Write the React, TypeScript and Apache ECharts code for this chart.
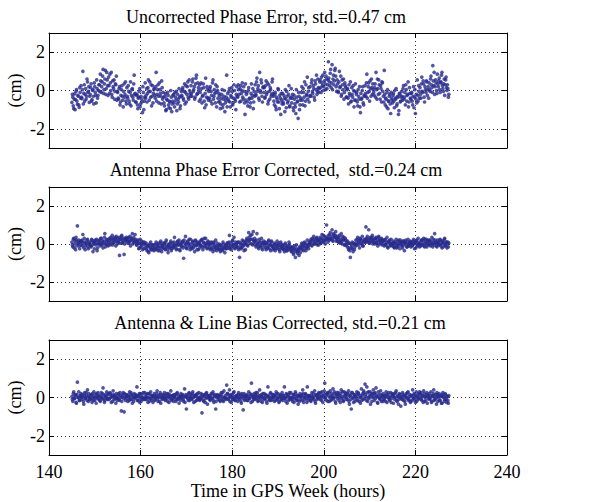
import React, { useEffect, useRef } from "react";
import * as echarts from "echarts";

// Time grid of the samples (hours): set A at T0 + i*DT, set B half a step later
const T0 = 145;
const DT = 0.2;

const X_MIN = 140;
const X_MAX = 240;
const X_STEP = 20;
const Y_MIN = -3;
const Y_MAX = 3;
const Y_TICKS = [-2, 0, 2];

const TITLES = [
  "Uncorrected Phase Error, std.=0.47 cm",
  "Antenna Phase Error Corrected,  std.=0.24 cm",
  "Antenna & Line Bias Corrected, std.=0.21 cm",
];
const Y_LABEL = "(cm)";
const X_LABEL = "Time in GPS Week (hours)";

// Panel 1: uncorrected phase error (cm)
const uncorrectedA = [
  -0.62, -0.35, -0.95, -0.18, -0.48, 0.05, -0.72, -0.30, -0.88, -0.10,
  0.25, -0.42, 1.00, -0.15, -0.55, 0.10, -0.30, 0.45, -0.05, -0.62,
  -0.20, 0.35, -0.48, 0.05, -0.70, 0.20, -0.25, 0.55, -0.40, 0.00,
  0.30, 0.85, -0.10, 0.45, 1.10, 0.05, 0.60, -0.20, 0.95, 0.25,
  0.70, -0.15, 0.40, 0.95, -0.35, 0.20, 0.55, -0.05, 0.30, -0.50,
  -0.10, -0.45, 0.20, -0.60, 0.05, -0.30, -0.85, 0.35, -0.20, -0.55,
  0.15, -0.40, -0.05, -0.70, 0.45, -0.25, 0.10, -0.50, 0.80, -0.15,
  -0.60, -0.20, -0.95, -0.35, 0.10, -0.70, -0.45, -1.15, -0.10, -0.55,
  0.40, -0.25, -0.60, 0.15, -0.05, 0.45, -0.35, -0.80, 0.25, -0.15,
  0.10, -0.40, 0.95, -0.20, 0.30, -0.65, 0.05, -0.30, 0.50, -0.45,
  -0.35, -0.80, -0.15, -1.00, -0.50, -0.25, -0.90, -0.60, 0.00, -1.10,
  -0.55, -0.20, -0.85, -0.35, -0.05, -0.70, -0.45, 0.10, -0.95, -0.30,
  -0.25, 0.15, -0.50, 0.35, -0.10, -0.60, 0.20, -0.35, 0.55, -0.15,
  0.25, -0.30, 0.60, 0.05, -0.45, 0.35, 0.80, -0.15, 0.15, -0.55,
  -0.10, 0.40, -0.65, -0.25, 0.15, -0.90, 0.65, -0.35, 0.05, -0.50,
  -0.40, 0.20, -0.05, -0.70, 0.55, -0.30, -0.15, 0.30, -0.85, 0.00,
  -0.60, -0.25, -0.95, -0.40, 0.05, -0.75, -0.30, -1.10, -0.50, 0.80,
  -0.15, -0.55, 0.10, -0.85, -0.35, -0.05, -0.65, 0.30, -0.45, -1.00,
  0.20, -0.35, 0.05, -0.60, 0.25, -0.15, 0.40, -0.45, -0.05, -1.25,
  -0.50, -0.10, -0.80, 0.15, -0.40, -0.65, 0.35, -0.25, -0.95, -0.05,
  0.30, -0.25, 0.65, 0.10, -0.40, 0.95, -0.10, 0.40, -0.60, 0.20,
  0.15, -0.35, 0.50, -0.10, -0.70, 0.30, -0.45, 0.05, -0.20, 0.60,
  -0.30, -0.75, -0.10, -1.00, -0.45, 0.10, -0.60, -0.25, -1.25, -0.50,
  -0.15, -0.70, -0.40, 0.05, -0.90, -0.30, -0.55, 0.25, -0.80, -0.35,
  -0.65, -0.20, -1.05, -0.45, -0.85, 0.05, -0.60, -1.45, -0.30, -0.75,
  -0.40, 0.20, -0.75, -0.10, 0.45, -0.55, -0.25, 0.70, -0.05, -0.60,
  0.20, -0.30, 0.55, -0.15, 0.10, -0.50, 0.35, 0.80, -0.05, 0.15,
  0.10, 0.55, -0.10, 0.40, 0.80, 0.20, 0.95, 0.05, 0.60, 0.30,
  1.50, 0.45, 0.90, 0.15, 1.35, 0.60, 0.30, 1.05, 0.75, -0.05,
  0.35, -0.10, 1.00, 0.20, -0.30, 0.55, 0.05, -0.45, 0.40, 0.15,
  -0.35, 0.10, -0.70, -0.15, 0.45, -0.55, -0.20, 0.25, -0.85, -0.05,
  -0.50, -0.10, -0.80, -0.30, 0.20, -1.15, -0.45, 0.00, -0.65, -0.25,
  0.25, -0.30, 0.85, -0.10, 0.40, -0.55, 0.10, 0.60, -0.20, 0.05,
  -0.25, 0.35, 0.95, -0.45, 0.10, 0.55, -0.15, 0.25, -0.60, 0.40,
  -0.30, 1.05, -0.75, -0.45, -0.10, -0.95, -0.55, -0.20, -1.20, -0.40,
  -0.65, -0.15, -0.90, -0.40, 0.10, -0.70, -0.35, -1.05, -0.20, -0.55,
  -0.05, -0.50, 0.25, -0.35, -0.75, 0.05, -0.25, 0.45, -0.60, -0.15,
  -0.45, -0.10, -0.75, 0.20, -0.35, -1.20, -0.20, 0.55, -0.55, -0.05,
  0.15, -0.40, 0.70, -0.10, 0.35, -0.60, 0.05, 0.50, -0.25, 0.20,
  0.40, -0.05, 0.75, 0.15, 1.30, 0.25, -0.20, 0.55, 0.00, 0.85,
  0.20, 0.65, -0.10, 0.45, 0.95, 0.10, 0.35, -0.25, 0.55, 0.15,
  0.30, -0.35,
];
const uncorrectedB = [
  -0.20, -0.80, -0.45, -1.00, -0.05, -0.55, -0.25, -0.75, 0.15, -0.40,
  -0.35, 0.05, -0.70, 0.30, -0.20, -0.45, 0.60, -0.10, 0.20, -0.30,
  0.15, -0.55, 0.00, -0.30, 0.40, -0.10, -0.65, 0.10, -0.25, 0.30,
  -0.05, 0.50, 0.20, 0.75, -0.15, 0.35, 1.05, 0.10, 0.55, -0.25,
  0.25, 0.85, 0.00, -0.20, 0.50, 0.10, -0.45, 0.35, 0.75, -0.05,
  -0.40, 0.10, -0.75, -0.25, 0.25, -0.50, -0.05, -0.35, 0.45, -0.70,
  -0.30, 0.25, -0.55, -0.10, -0.80, 0.05, -0.35, 0.35, -0.20, -0.60,
  -0.25, -0.75, -0.40, -0.05, -0.85, -0.30, -0.60, 0.20, -1.00, -0.35,
  -0.40, 0.10, -0.15, 0.55, -0.50, -0.05, 0.30, -0.30, -0.65, 0.05,
  -0.25, 0.20, -0.55, 0.05, -0.30, 0.40, -0.15, -0.70, 0.15, -0.10,
  -0.65, -0.30, -1.05, -0.45, -0.10, -0.75, -0.55, -0.95, -0.35, -0.70,
  -0.25, -0.65, -0.10, -0.50, -1.05, -0.20, -0.60, -0.35, -0.80, -0.05,
  0.05, -0.40, -0.05, -0.70, 0.25, -0.20, 0.45, -0.45, 0.00, -0.30,
  -0.15, 0.45, -0.05, 0.20, -0.35, 0.65, -0.20, 0.40, 0.00, 0.30,
  -0.45, 0.10, -0.30, 0.35, -0.55, -0.15, -0.75, 0.20, -0.40, -0.05,
  0.10, -0.55, -0.25, 0.40, -0.45, 0.05, -0.65, -0.10, 0.20, -0.40,
  -0.15, -0.55, -0.70, -0.20, -0.90, -0.45, 0.00, -0.65, -0.35, -0.85,
  -0.45, -0.05, -0.60, -0.25, 0.15, -0.75, -0.40, 0.00, -0.55, -0.20,
  -0.30, 0.30, -0.20, 0.10, -0.55, 0.00, -0.35, 0.20, -0.65, 0.35,
  -0.20, -0.60, 0.00, -0.45, -0.85, -0.15, -0.40, 0.10, -0.60, -0.30,
  -0.20, 0.45, -0.05, 0.25, -0.50, 0.00, 0.55, -0.30, 0.15, -0.10,
  -0.40, 0.25, -0.20, 0.40, -0.55, -0.05, 0.15, -0.30, 0.45, -0.15,
  -0.55, -0.20, -0.85, -0.35, -0.60, 0.05, -0.95, -0.40, -0.15, -0.70,
  -0.60, -0.25, -1.10, -0.45, -0.05, -0.65, -0.20, -0.85, -0.40, 0.10,
  -0.40, -0.90, -0.25, -0.70, -1.20, -0.35, -0.55, -0.10, -1.00, -0.50,
  -0.10, -0.50, 0.10, -0.35, -0.80, 0.30, -0.20, -0.45, 0.15, -0.30,
  -0.25, 0.40, -0.05, 0.25, -0.35, 0.50, 0.05, -0.20, 0.60, -0.10,
  0.45, 0.15, 0.70, 0.25, 0.00, 0.50, 0.35, 0.75, 0.10, 0.55,
  0.65, 0.25, 1.10, 0.40, 0.05, 0.80, 0.50, 1.15, 0.20, 0.55,
  -0.05, 0.45, 0.15, 0.75, -0.20, 0.30, 0.60, -0.10, 0.25, -0.35,
  0.05, -0.40, 0.30, -0.25, -0.60, 0.15, -0.35, 0.00, -0.50, 0.35,
  -0.20, -0.60, 0.05, -0.45, -0.85, -0.15, -0.40, 0.20, -0.75, -0.30,
  -0.15, 0.40, -0.40, 0.20, -0.05, 0.50, -0.30, 0.15, 0.35, -0.10,
  0.15, -0.35, 0.05, 0.60, -0.20, 0.30, -0.45, 0.10, 0.45, -0.05,
  -0.60, -0.20, -0.40, -0.85, 0.05, -0.55, -0.30, -0.70, -0.10, -0.50,
  -0.25, -0.55, 0.00, -0.45, -0.80, -0.30, -1.25, -0.15, -0.60, -0.35,
  -0.30, 0.10, -0.45, -0.10, 0.30, -0.55, -0.20, -0.85, 0.15, -0.40,
  -0.15, -0.55, -0.30, -0.90, 0.05, -0.45, -0.65, -0.25, 0.25, -0.40,
  -0.20, 0.35, -0.05, 0.50, -0.35, 0.20, -0.10, 0.45, 0.05, -0.40,
  0.05, 0.60, 0.30, -0.10, 0.50, 0.95, 0.20, 0.40, -0.15, 0.35,
  0.50, 0.05, 0.40, 0.80, 0.25, -0.05, 0.60, 0.30, 0.70, 0.00,
  0.10, -0.20,
];

// Panel 2: antenna phase error corrected (cm)
const antennaCorrectedA = [
  0.10, -0.15, 0.30, 0.00, -0.30, 0.20, 0.95, 0.05, -0.10, 0.15,
  -0.05, 0.20, 0.50, -0.20, 0.10, -0.10, 0.05, 0.25, -0.25, 0.00,
  0.10, -0.15, 0.20, -0.40, 0.05, 0.15, -0.05, 0.25, -0.20, 0.00,
  0.20, -0.10, 0.30, 0.05, -0.20, 0.15, 0.55, 0.00, 0.25, -0.05,
  0.10, 0.30, -0.05, 0.25, 0.45, 0.05, 0.20, 0.35, -0.10, 0.15,
  0.30, 0.10, -0.60, 0.25, 0.40, 0.05, 0.20, -0.55, 0.30, 0.15,
  0.25, 0.05, 0.35, 0.15, -0.10, 0.30, 0.55, 0.10, 0.20, 0.50,
  0.10, -0.05, 0.20, -0.25, 0.05, -0.15, 0.15, -0.30, 0.00, 0.10,
  -0.20, 0.05, -0.35, -0.10, -0.45, -0.15, 0.10, -0.30, -0.05, -0.25,
  -0.05, -0.30, 0.10, -0.15, -0.35, 0.05, -0.20, 0.15, -0.40, -0.10,
  -0.20, 0.05, -0.30, 0.20, -0.10, -0.45, 0.00, -0.15, 0.15, -0.25,
  0.05, -0.20, 0.35, -0.10, -0.30, 0.10, -0.05, 0.20, -0.35, 0.00,
  -0.10, 0.15, -0.75, 0.05, 0.40, -0.20, 0.10, -0.05, 0.25, -0.30,
  0.00, -0.25, 0.15, -0.10, -0.40, 0.20, -0.05, 0.10, -0.30, 0.05,
  0.15, -0.10, 0.25, -0.30, 0.05, -0.15, 0.30, 0.00, -0.20, 0.10,
  -0.05, -0.30, 0.10, -0.20, -0.40, 0.05, -0.15, 0.20, -0.35, -0.10,
  -0.25, 0.00, -0.40, -0.10, -0.30, 0.10, -0.20, -0.45, -0.05, -0.25,
  0.05, -0.20, 0.45, -0.10, -0.30, 0.15, -0.05, 0.35, -0.25, 0.00,
  -0.15, 0.10, -0.30, -0.70, 0.05, -0.20, 0.20, -0.05, -0.35, 0.10,
  0.05, 0.30, -0.10, 0.60, 0.20, 0.45, 0.00, 0.25, 0.65, 0.10,
  0.15, -0.15, 0.55, 0.05, -0.25, 0.10, -0.10, 0.30, -0.30, 0.00,
  -0.10, 0.10, -0.30, 0.05, -0.20, 0.20, -0.05, -0.35, 0.15, -0.15,
  -0.20, 0.05, -0.35, -0.10, 0.15, -0.25, -0.05, -0.40, 0.10, -0.15,
  -0.25, -0.05, -0.40, 0.05, -0.20, -0.35, -0.10, 0.10, -0.30, -0.15,
  -0.35, -0.15, -0.55, -0.25, -0.70, -0.05, -0.40, -0.30, -0.60, -0.20,
  -0.25, 0.05, -0.15, -0.35, 0.10, -0.05, -0.20, 0.20, -0.10, 0.00,
  0.05, 0.25, -0.10, 0.20, 0.40, 0.00, 0.15, 0.30, -0.05, 0.20,
  0.15, 0.35, 0.05, 0.50, 0.25, 0.10, 0.40, 0.20, 1.00, 0.30,
  0.45, 0.20, 0.60, 0.30, 0.75, 0.15, 0.50, 0.35, 0.65, 0.25,
  0.30, 0.10, 0.45, 0.15, 0.55, 0.00, 0.25, 0.35, -0.05, 0.20,
  -0.05, 0.15, -0.30, 0.05, -0.70, -0.20, 0.10, -0.40, 0.00, -0.15,
  0.20, -0.05, 0.35, 0.10, -0.20, 0.25, 0.05, 0.40, -0.10, 0.15,
  0.10, 0.90, 0.30, 0.15, 0.75, 0.05, 0.35, 0.20, 0.45, 0.10,
  0.25, 0.00, 0.35, 0.10, -0.10, 0.40, 0.20, 0.05, 0.30, 0.15,
  0.15, -0.10, 0.25, 0.00, 0.35, -0.20, 0.10, 0.20, -0.05, 0.05,
  -0.10, 0.15, -0.20, 0.05, 0.25, -0.15, 0.00, 0.20, -0.25, 0.10,
  0.05, -0.20, 0.15, -0.35, 0.10, 0.00, -0.15, 0.25, -0.05, 0.10,
  -0.15, 0.10, -0.05, 0.25, -0.25, 0.05, 0.15, -0.10, 0.30, 0.00,
  0.10, -0.10, 0.20, 0.00, 0.30, -0.15, 0.05, 0.25, -0.05, 0.15,
  -0.05, 0.20, 0.00, 0.35, -0.15, 0.10, 0.55, 0.05, -0.10, 0.20,
  0.10, -0.05, 0.25, 0.00, -0.20, 0.15, 0.05, 0.30, -0.10, 0.10,
  0.00, -0.15,
];
const antennaCorrectedB = [
  -0.05, 0.25, -0.20, 0.15, 0.35, -0.10, 0.05, 0.20, -0.25, 0.10,
  0.15, -0.10, 0.05, 0.30, -0.30, 0.00, 0.20, -0.15, 0.10, -0.05,
  -0.10, 0.25, -0.05, 0.10, -0.25, 0.20, 0.05, -0.35, 0.15, 0.00,
  0.10, 0.30, -0.05, 0.15, 0.00, 0.35, -0.15, 0.10, 0.20, -0.10,
  0.20, 0.05, 0.35, 0.15, -0.05, 0.30, 0.10, 0.25, 0.40, 0.00,
  0.15, 0.35, 0.05, 0.25, 0.45, 0.10, 0.30, 0.00, 0.20, 0.35,
  0.30, 0.15, 0.05, 0.40, 0.20, 0.25, 0.00, 0.35, 0.10, 0.25,
  -0.05, 0.15, 0.05, -0.20, 0.25, 0.00, -0.10, 0.10, -0.25, 0.05,
  -0.05, -0.25, -0.10, -0.40, 0.00, -0.20, -0.30, -0.05, -0.15, -0.35,
  -0.20, 0.00, -0.25, -0.05, -0.15, -0.35, 0.05, -0.10, -0.25, 0.05,
  -0.05, -0.25, 0.10, -0.15, -0.30, -0.05, -0.20, 0.05, -0.35, -0.10,
  -0.15, 0.10, -0.10, 0.00, -0.25, 0.15, -0.05, -0.30, 0.05, -0.15,
  0.10, -0.20, 0.20, -0.10, 0.00, -0.25, 0.15, 0.05, -0.15, 0.25,
  -0.15, 0.10, -0.20, 0.00, 0.15, -0.10, -0.30, 0.05, -0.05, -0.20,
  -0.05, 0.20, -0.15, 0.10, 0.30, -0.10, 0.05, -0.25, 0.15, -0.05,
  -0.20, 0.05, -0.25, -0.05, 0.10, -0.30, -0.10, -0.20, 0.05, -0.25,
  -0.10, -0.30, -0.05, -0.20, -0.35, 0.00, -0.15, -0.25, -0.10, 0.05,
  -0.10, 0.10, -0.25, 0.05, -0.15, 0.20, -0.05, -0.20, 0.10, -0.10,
  0.05, -0.20, 0.10, -0.10, -0.25, 0.00, -0.15, 0.15, -0.05, -0.30,
  0.20, -0.05, 0.15, 0.35, 0.05, 0.25, 0.50, -0.05, 0.15, 0.30,
  -0.05, 0.20, 0.00, -0.15, 0.25, -0.10, 0.10, -0.20, 0.05, 0.15,
  0.05, -0.20, 0.00, -0.15, 0.15, -0.25, -0.05, 0.10, -0.10, -0.30,
  -0.05, -0.25, 0.00, -0.20, -0.10, 0.05, -0.30, -0.15, 0.00, -0.25,
  -0.10, -0.30, -0.20, -0.05, -0.35, -0.15, -0.25, 0.00, -0.20, -0.40,
  -0.20, -0.45, -0.30, -0.10, -0.40, -0.25, -0.50, -0.35, -0.15, -0.45,
  -0.05, -0.30, -0.10, 0.05, -0.20, -0.35, 0.00, -0.15, -0.25, 0.10,
  0.15, -0.05, 0.30, 0.10, 0.00, 0.25, 0.05, 0.35, 0.15, -0.05,
  0.25, 0.05, 0.30, 0.15, 0.45, 0.20, 0.00, 0.35, 0.25, 0.10,
  0.30, 0.50, 0.25, 0.40, 0.20, 0.55, 0.35, 0.45, 0.15, 0.40,
  0.15, 0.35, 0.05, 0.25, 0.10, 0.40, 0.20, -0.05, 0.30, 0.10,
  -0.15, 0.05, -0.20, -0.35, 0.00, -0.10, -0.25, 0.05, -0.30, -0.05,
  0.05, 0.25, -0.05, 0.15, 0.30, 0.00, 0.20, -0.10, 0.10, 0.25,
  0.25, 0.10, 0.40, 0.20, 0.05, 0.30, 0.15, 0.35, 0.00, 0.25,
  0.10, 0.30, 0.05, 0.20, 0.35, 0.00, 0.15, 0.25, -0.05, 0.20,
  0.00, 0.20, -0.05, 0.10, -0.15, 0.15, 0.05, -0.10, 0.25, 0.00,
  0.05, -0.15, 0.10, -0.05, -0.20, 0.15, -0.10, 0.05, 0.20, -0.05,
  -0.10, 0.15, -0.05, 0.05, 0.20, -0.15, 0.10, -0.10, 0.00, 0.15,
  0.05, -0.10, 0.15, 0.00, 0.10, -0.20, 0.20, -0.05, 0.05, -0.15,
  0.00, 0.20, -0.05, 0.15, -0.10, 0.25, 0.10, -0.15, 0.05, 0.20,
  0.15, -0.10, 0.10, 0.00, 0.25, -0.05, 0.20, 0.10, -0.15, 0.05,
  0.00, 0.20, -0.10, 0.15, 0.05, -0.15, 0.25, -0.05, 0.10, -0.20,
  0.10, 0.05,
];

// Panel 3: antenna & line bias corrected (cm)
const lineBiasCorrectedA = [
  0.05, -0.20, 0.30, -0.05, 0.15, -0.30, 0.80, 0.00, -0.15, 0.10,
  0.20, -0.10, 0.05, -0.35, 0.25, -0.05, 0.10, 0.40, -0.20, 0.00,
  -0.10, 0.15, -0.25, 0.05, 0.30, -0.15, 0.00, 0.20, -0.05, 0.10,
  0.05, -0.20, 0.25, -0.05, 0.50, 0.10, -0.15, 0.00, 0.30, -0.10,
  0.15, -0.05, 0.20, -0.25, 0.05, 0.35, -0.10, 0.10, -0.30, 0.00,
  -0.05, 0.20, -0.15, 0.10, -0.70, 0.05, 0.25, -0.75, 0.00, 0.15,
  0.10, -0.20, 0.05, 0.30, -0.10, 0.15, -0.30, 0.00, 0.20, -0.05,
  0.05, 0.55, -0.15, 0.10, -0.25, 0.20, 0.00, -0.10, 0.25, -0.05,
  -0.10, 0.15, 0.00, -0.25, 0.20, -0.05, 0.30, -0.15, 0.05, 0.10,
  0.20, -0.10, 0.05, 0.35, -0.20, 0.00, 0.15, -0.30, 0.10, -0.05,
  0.00, 0.25, -0.15, 0.10, -0.05, 0.20, -0.25, 0.05, 0.35, -0.10,
  0.10, -0.20, 0.00, 0.15, -0.10, 0.25, -0.05, -0.30, 0.05, 0.20,
  -0.05, 0.15, -0.20, 0.45, 0.05, -0.60, 0.10, -0.15, 0.25, 0.00,
  0.15, -0.10, 0.30, -0.25, 0.05, 0.10, -0.15, 0.20, -0.05, 0.00,
  -0.10, 0.20, -0.80, 0.05, -0.20, 0.15, -0.05, 0.25, -0.35, 0.10,
  0.05, -0.15, 0.20, -0.05, 0.30, -0.25, 0.10, -0.60, 0.00, 0.15,
  -0.10, 0.10, -0.20, 0.25, 0.05, -0.15, 0.35, 0.00, -0.05, 0.65,
  0.20, -0.10, 0.40, 0.05, -0.25, 0.15, -0.05, 0.30, -0.15, 0.00,
  0.10, -0.20, 0.25, -0.05, 0.15, -0.30, 0.05, -0.65, 0.20, -0.10,
  0.00, 0.15, -0.15, 0.30, -0.05, 0.10, 0.75, -0.20, 0.05, 0.20,
  -0.10, 0.25, 0.05, -0.20, 0.10, 0.40, -0.05, 0.15, -0.25, 0.00,
  0.20, -0.05, 0.10, -0.30, 0.55, 0.05, -0.15, 0.25, 0.00, -0.10,
  0.15, -0.20, 0.05, 0.30, -0.10, 0.20, -0.25, 0.00, 0.10, -0.05,
  -0.15, 0.10, 0.55, -0.05, 0.20, -0.30, 0.05, 0.15, -0.10, 0.25,
  0.00, -0.20, 0.15, -0.05, 0.30, -0.15, 0.10, -0.35, 0.05, 0.20,
  -0.10, 0.15, 0.40, -0.25, 0.05, 0.20, -0.05, 0.55, -0.15, 0.10,
  0.05, -0.20, 0.25, 0.00, -0.10, 0.35, -0.30, 0.10, 0.15, -0.05,
  0.20, -0.10, 0.05, 0.30, -0.25, 0.15, 0.75, 0.00, -0.15, 0.25,
  0.10, -0.20, 0.35, 0.05, -0.10, 0.45, 0.00, 0.20, -0.30, 0.15,
  -0.05, 0.25, 0.10, -0.25, 0.40, 0.05, -0.15, 0.30, 0.00, 0.15,
  0.20, -0.10, 0.35, -0.35, 0.10, -0.60, 0.25, -0.05, 0.15, -0.20,
  0.05, 0.30, -0.15, 0.20, 0.00, -0.30, 0.45, 0.10, -0.10, 0.25,
  0.70, 0.05, 0.55, -0.20, 0.30, 0.10, -0.35, 0.20, 0.00, 0.40,
  -0.15, 0.25, 0.50, 0.05, -0.30, 0.15, -0.05, 0.35, -0.20, 0.10,
  0.20, -0.10, 0.05, 0.30, -0.25, 0.15, 0.00, -0.15, 0.25, -0.05,
  0.10, -0.30, 0.20, 0.00, 0.35, -0.20, 0.05, -0.10, 0.15, -0.45,
  0.05, 0.25, -0.15, 0.10, -0.35, 0.20, 0.00, 0.30, -0.10, 0.15,
  -0.20, 0.10, 0.40, -0.05, 0.15, -0.25, 0.30, 0.05, -0.10, 0.20,
  0.00, 0.25, -0.15, 0.10, 0.35, -0.20, 0.05, 0.15, -0.30, 0.10,
  0.20, -0.05, 0.30, -0.20, 0.10, 0.40, -0.10, 0.05, -0.35, 0.15,
  0.00, 0.20, -0.15, 0.10, -0.30, 0.25, 0.05, -0.10, 0.15, -0.25,
  0.05, -0.30,
];
const lineBiasCorrectedB = [
  -0.10, 0.20, -0.05, 0.10, -0.25, 0.15, 0.00, 0.30, -0.15, 0.05,
  0.00, 0.15, -0.20, 0.10, -0.05, 0.25, -0.15, 0.05, 0.20, -0.10,
  0.10, -0.05, 0.20, -0.15, 0.00, 0.15, -0.30, 0.05, 0.25, -0.10,
  -0.15, 0.10, 0.00, 0.20, -0.10, -0.25, 0.15, 0.05, -0.05, 0.20,
  -0.10, 0.25, 0.00, 0.10, -0.20, 0.15, 0.05, -0.05, 0.20, -0.15,
  0.10, -0.10, 0.25, 0.00, -0.20, 0.15, -0.05, 0.20, -0.15, 0.05,
  -0.05, 0.15, -0.15, 0.05, 0.25, -0.10, 0.10, -0.20, 0.00, 0.15,
  0.10, -0.15, 0.05, 0.20, -0.05, -0.20, 0.15, 0.00, -0.10, 0.25,
  0.05, -0.10, 0.20, 0.00, -0.20, 0.15, -0.05, 0.10, -0.25, 0.00,
  -0.15, 0.05, 0.20, -0.05, 0.10, -0.20, 0.25, 0.00, -0.10, 0.15,
  0.10, -0.10, 0.00, 0.20, -0.20, 0.05, 0.15, -0.05, -0.15, 0.10,
  -0.05, 0.15, 0.05, -0.20, 0.20, -0.10, 0.10, 0.00, -0.15, 0.05,
  0.10, -0.10, 0.05, -0.25, 0.15, 0.00, -0.05, 0.20, -0.15, 0.05,
  -0.05, 0.20, 0.00, 0.10, -0.20, 0.15, 0.05, -0.10, 0.25, -0.15,
  0.05, -0.05, 0.15, -0.15, 0.10, -0.25, 0.20, 0.00, 0.10, -0.05,
  -0.10, 0.10, -0.05, 0.20, -0.15, 0.05, 0.15, -0.20, 0.10, 0.00,
  0.05, -0.15, 0.15, -0.05, 0.25, -0.20, 0.00, 0.10, -0.10, 0.20,
  -0.05, 0.10, -0.20, 0.15, 0.00, -0.10, 0.25, 0.05, -0.15, 0.10,
  0.00, 0.15, -0.10, 0.05, -0.20, 0.20, -0.05, 0.10, -0.15, 0.05,
  0.10, -0.15, 0.05, -0.05, 0.20, -0.25, 0.15, 0.00, -0.10, 0.05,
  0.15, -0.05, 0.25, -0.15, 0.00, 0.10, -0.20, 0.05, 0.20, -0.10,
  -0.05, 0.15, -0.20, 0.10, 0.00, -0.10, 0.20, -0.15, 0.05, 0.15,
  0.00, 0.10, -0.15, 0.20, -0.05, 0.05, -0.20, 0.15, -0.10, 0.25,
  0.10, -0.05, 0.00, -0.20, 0.15, 0.05, -0.15, 0.25, -0.05, 0.00,
  -0.10, 0.15, -0.25, 0.05, 0.20, -0.05, -0.15, 0.10, -0.20, 0.05,
  0.05, -0.15, 0.20, 0.00, -0.10, 0.15, -0.25, 0.05, 0.10, -0.05,
  -0.15, 0.10, -0.05, 0.20, 0.05, -0.20, 0.15, -0.10, 0.00, 0.25,
  0.05, 0.25, -0.15, 0.10, 0.00, 0.35, -0.05, 0.15, 0.20, -0.20,
  0.25, 0.00, -0.15, 0.20, 0.10, -0.05, 0.30, -0.20, 0.05, 0.25,
  0.15, -0.15, 0.00, 0.20, -0.05, 0.30, -0.20, 0.10, 0.25, -0.10,
  0.05, 0.20, -0.20, 0.10, -0.10, 0.25, 0.00, -0.25, 0.15, 0.05,
  -0.10, 0.15, 0.25, -0.20, 0.10, 0.00, -0.15, 0.20, 0.35, -0.05,
  0.15, -0.15, 0.25, 0.00, -0.05, 0.30, 0.10, -0.20, 0.20, 0.05,
  0.20, -0.05, 0.10, -0.25, 0.30, 0.00, -0.10, 0.15, 0.05, -0.20,
  -0.05, 0.10, -0.20, 0.15, 0.00, 0.25, -0.10, 0.05, -0.25, 0.20,
  0.15, 0.05, -0.10, 0.25, -0.15, 0.10, -0.35, 0.20, 0.00, -0.05,
  -0.10, 0.15, 0.00, -0.20, 0.10, -0.05, 0.25, -0.15, 0.05, -0.25,
  0.10, -0.15, 0.00, 0.20, -0.10, 0.05, -0.20, 0.15, -0.05, 0.30,
  0.15, -0.10, 0.05, -0.25, 0.20, 0.00, -0.15, 0.25, 0.05, -0.05,
  -0.10, 0.10, -0.25, 0.05, 0.20, -0.15, 0.15, -0.05, 0.25, -0.20,
  0.10, -0.15, 0.05, -0.30, 0.15, 0.00, -0.20, 0.20, -0.10, 0.05,
  -0.15, 0.10,
];

const PANELS = [
  [uncorrectedA, uncorrectedB],
  [antennaCorrectedA, antennaCorrectedB],
  [lineBiasCorrectedA, lineBiasCorrectedB],
];

const FONT = '"Liberation Serif", "Times New Roman", serif';
const DOT_COLOR = "#272b8c";

export default function App() {
  const ref = useRef<HTMLDivElement>(null);

  useEffect(() => {
    if (!ref.current) return;
    const chart = echarts.init(ref.current, undefined, { renderer: "svg" });

    const gridTops = [33, 187, 340];
    const gridHeights = [115, 114, 115];
    const titleCenters = [266, 276, 280];
    const titleYs = [17, 170, 323];

    const grids: any[] = [];
    const xAxes: any[] = [];
    const yAxes: any[] = [];
    const series: any[] = [];
    const graphics: any[] = [];

    const lineStyle = { color: "#000", width: 1 };
    const tickStyle = { show: true, inside: true, length: 5, lineStyle };
    const dotted = { show: true, lineStyle: { color: "#333", width: 1, type: [1, 3] } };

    PANELS.forEach(([setA, setB], k) => {
      grids.push({
        left: 49,
        width: 458,
        top: gridTops[k],
        height: gridHeights[k],
        show: false,
      });
      xAxes.push({
        type: "value",
        gridIndex: k,
        position: "bottom",
        min: X_MIN,
        max: X_MAX,
        interval: X_STEP,
        axisLine: { show: true, onZero: false, lineStyle },
        axisTick: tickStyle,
        splitLine: dotted,
        axisLabel: {
          show: k === 2,
          color: "#000",
          fontSize: 18,
          fontFamily: FONT,
          margin: 8,
        },
      });
      xAxes.push({
        type: "value",
        gridIndex: k,
        position: "top",
        min: X_MIN,
        max: X_MAX,
        interval: X_STEP,
        axisLine: { show: true, onZero: false, lineStyle },
        axisTick: tickStyle,
        splitLine: { show: false },
        axisLabel: { show: false },
      });
      yAxes.push({
        type: "value",
        gridIndex: k,
        position: "left",
        min: Y_MIN,
        max: Y_MAX,
        axisLine: { show: true, onZero: false, lineStyle },
        axisTick: { ...tickStyle, customValues: Y_TICKS },
        splitLine: { show: false },
        axisLabel: {
          customValues: Y_TICKS,
          color: "#000",
          fontSize: 18,
          fontFamily: FONT,
          margin: 4,
        },
      });
      yAxes.push({
        type: "value",
        gridIndex: k,
        position: "right",
        min: Y_MIN,
        max: Y_MAX,
        axisLine: { show: true, onZero: false, lineStyle },
        axisTick: { ...tickStyle, customValues: Y_TICKS },
        splitLine: { show: false },
        axisLabel: { show: false },
      });
      const data = [
        ...setA.map((v, i) => [T0 + i * DT, v]),
        ...setB.map((v, i) => [T0 + DT / 2 + i * DT, v]),
      ];
      series.push({
        type: "scatter",
        xAxisIndex: 2 * k,
        yAxisIndex: 2 * k,
        symbol: "circle",
        symbolSize: 3.7,
        itemStyle: { color: DOT_COLOR },
        data,
        markLine: {
          silent: true,
          symbol: "none",
          label: { show: false },
          lineStyle: { color: "#333", width: 1, type: [1, 3] },
          data: Y_TICKS.map((t) => ({ yAxis: t })),
          z: 0,
        },
        z: 3,
      });
      graphics.push({
        type: "text",
        x: titleCenters[k],
        y: titleYs[k],
        style: {
          text: TITLES[k],
          fontSize: 18,
          fontFamily: FONT,
          fill: "#000",
          align: "center",
          verticalAlign: "middle",
        },
      });
      graphics.push({
        type: "text",
        x: 15,
        y: gridTops[k] + gridHeights[k] / 2,
        rotation: Math.PI / 2,
        style: {
          text: Y_LABEL,
          fontSize: 18,
          fontFamily: FONT,
          fill: "#000",
          align: "center",
          verticalAlign: "middle",
        },
      });
    });

    graphics.push({
      type: "text",
      x: 288,
      y: 491,
      style: {
        text: X_LABEL,
        fontSize: 18,
        fontFamily: FONT,
        fill: "#000",
        align: "center",
        verticalAlign: "middle",
      },
    });

    chart.setOption({
      animation: false,
      backgroundColor: "#fff",
      grid: grids,
      xAxis: xAxes,
      yAxis: yAxes,
      series,
      graphic: graphics,
    });

    return () => chart.dispose();
  }, []);

  return (
    <div
      ref={ref}
      style={{ position: "absolute", left: 0, top: 0, width: 611, height: 502 }}
    />
  );
}
